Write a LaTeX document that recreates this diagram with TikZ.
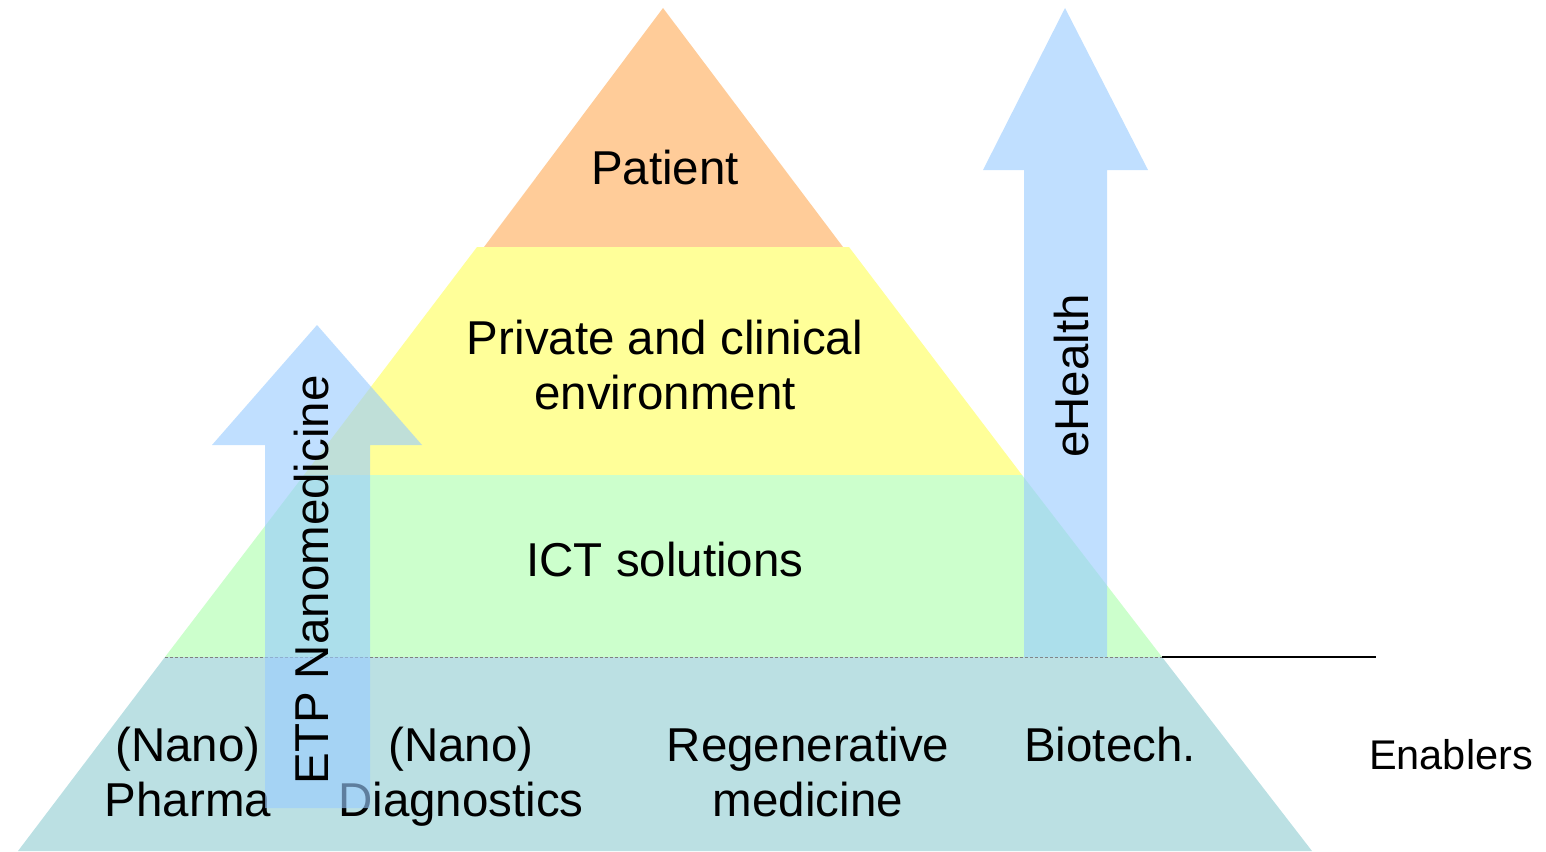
\documentclass[tikz,border=0pt]{standalone}
\usepackage{fontspec}
\setmainfont{Liberation Sans}
\begin{document}
\begin{tikzpicture}[x=1pt,y=-1pt,
  big/.style={font=\fontsize{47.5}{55}\selectfont, align=center, inner sep=0pt},
  small/.style={font=\fontsize{41.5}{48}\selectfont, align=center, inner sep=0pt},
  arrowfill/.style={fill=arrowblue, fill opacity=0.62, draw=none}]
\definecolor{patient}{HTML}{FFCC99}
\definecolor{private}{HTML}{FFFF99}
\definecolor{ict}{HTML}{CCFFCC}
\definecolor{enabl}{HTML}{BBE0E3}
\definecolor{arrowblue}{HTML}{99CCFF}
\useasboundingbox (0,0) rectangle (1546,851);
% pyramid layers
\fill[patient] (663,8) -- (843,247) -- (484,247) -- cycle;
\fill[private] (477,247) -- (849,247) -- (1022,475) -- (304,475) -- cycle;
\fill[ict] (304,475) -- (1022,475) -- (1162,657) -- (165,657) -- cycle;
\fill[enabl] (165,657) -- (1162,657) -- (1312,851) -- (18,851) -- cycle;
% separator line
\coordinate (lineL) at (165,657);
\coordinate (lineM) at (1162,657);
\coordinate (lineR) at (1376,657);
\draw[gray, line width=0.8pt, densely dashed] (lineL) -- (lineM);
\draw[black, line width=1.8pt] (lineM) -- (lineR);
% layer texts
\node[big] (patientT) at (665,168) {Patient};
\node[big] (privT) at (665,365) {Private and clinical\\environment};
\node[big] (ictT) at (665,560) {ICT solutions};
\node[big] (pharmaT) at (188,772) {(Nano)\\Pharma};
\node[big] (diagT) at (461,777) {(Nano)\\Diagnostics};
\node[big] (regenT) at (808,772) {Regenerative\\medicine};
\node[big] (bioT) at (1110,745) {Biotech.};
\node[small] (enablT) at (1451,755) {Enablers};
% arrows
\fill[arrowfill] (317,325) -- (422,445) -- (370,445) -- (370,808) -- (265,808) -- (265,445) -- (212,445) -- cycle;
\fill[arrowfill] (1065,8) -- (1148,170) -- (1107,170) -- (1107,657) -- (1024,657) -- (1024,170) -- (983,170) -- cycle;
\node[big, rotate=90] (etpT) at (312,580) {ETP Nanomedicine};
\node[big, rotate=90] (ehT) at (1072,376) {eHealth};
\end{tikzpicture}
\end{document}
